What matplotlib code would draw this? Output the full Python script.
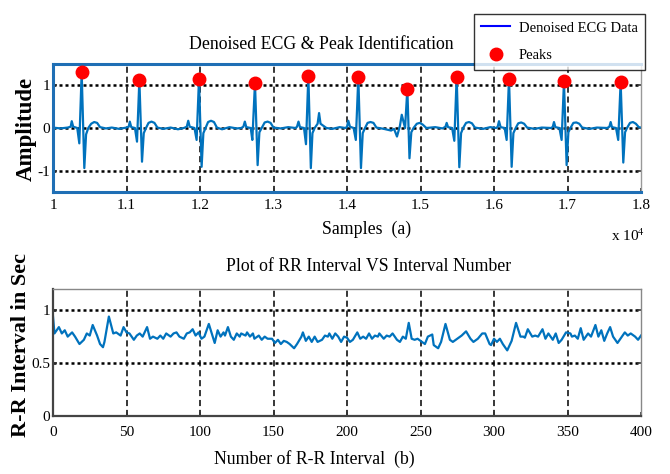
import numpy as np
import matplotlib.pyplot as plt

plt.rcParams['font.family'] = ['Liberation Serif', 'DejaVu Serif']
plt.rcParams['mathtext.fontset'] = 'stix'
plt.rcParams['axes.unicode_minus'] = False

# -- ECG trace (samples, amplitude), one row per beat --
ecg_samples = [
    10000, 10100, 10200, 10240, 10255, 10275, 10330, 10358, 10390, 10426, 10450, 10480, 10520, 10560, 10600, 10640, 10720, 10800, 10900, 11000,
    11030, 11045, 11065, 11115, 11143, 11175, 11211, 11235, 11265, 11300, 11340, 11380, 11420, 11500, 11600, 11700, 11780,
    11820, 11840, 11860, 11925, 11954, 11986, 12022, 12046, 12075, 12110, 12150, 12190, 12230, 12300, 12400, 12500, 12560,
    12590, 12610, 12630, 12690, 12712, 12748, 12784, 12808, 12840, 12880, 12920, 12960, 13000, 13100, 13200, 13300,
    13320, 13340, 13360, 13415, 13442, 13474, 13508, 13530, 13560, 13600, 13620, 13640, 13680, 13720, 13800, 13900, 13980,
    14000, 14018, 14040, 14090, 14120, 14154, 14190, 14214, 14245, 14280, 14320, 14360, 14400, 14500, 14600, 14640,
    14680, 14720, 14745, 14790, 14821, 14850, 14875, 14905, 14950, 14990, 15030, 15080, 15200, 15300,
    15340, 15356, 15375, 15430, 15460, 15492, 15528, 15552, 15580, 15620, 15660, 15700, 15740, 15850, 15950, 16030,
    16050, 16068, 16090, 16145, 16172, 16204, 16240, 16264, 16295, 16330, 16370, 16410, 16450, 16550, 16650, 16780,
    16800, 16816, 16835, 16890, 16920, 16952, 16988, 17012, 17040, 17080, 17120, 17160, 17200, 17300, 17400, 17540,
    17570, 17587, 17605, 17660, 17690, 17723, 17759, 17783, 17810, 17850, 17890, 17930, 17970, 18000,
]
ecg_amplitude = [
    0.01, -0.01, 0.01, 0.03, 0.16, 0.03, 0.0, -0.36, 1.31, -0.94, -0.15, 0.0, 0.10, 0.14, 0.12, 0.02, -0.01, 0.01, -0.02, 0.01,
    0.03, 0.15, 0.02, 0.0, -0.32, 1.13, -0.79, -0.12, 0.0, 0.12, 0.15, 0.12, 0.01, -0.02, 0.01, -0.03, 0.0,
    0.03, 0.17, 0.03, 0.0, -0.28, 1.14, -0.91, -0.12, 0.0, 0.14, 0.17, 0.14, 0.01, -0.03, 0.02, -0.01, 0.0,
    0.03, 0.15, 0.02, 0.0, -0.28, 1.06, -0.87, -0.10, 0.0, 0.13, 0.15, 0.12, 0.01, -0.01, 0.02, 0.0,
    0.03, 0.15, 0.02, 0.0, -0.38, 1.23, -0.94, -0.12, 0.0, 0.10, 0.35, 0.10, 0.05, 0.0, -0.02, 0.02, 0.0,
    0.03, 0.17, 0.03, 0.0, -0.28, 1.19, -0.94, -0.12, 0.0, 0.12, 0.14, 0.12, 0.01, -0.02, -0.06, -0.02,
    -0.20, 0.05, 0.31, 0.0, 0.92, -0.71, -0.10, 0.0, 0.10, 0.12, 0.08, 0.0, 0.02, -0.01,
    0.03, 0.12, 0.02, 0.0, -0.30, 1.20, -0.92, -0.12, 0.0, 0.12, 0.14, 0.11, 0.01, -0.02, 0.02, 0.0,
    0.03, 0.16, 0.02, 0.0, -0.28, 1.16, -0.91, -0.12, 0.0, 0.11, 0.13, 0.10, 0.01, -0.02, 0.01, 0.0,
    0.03, 0.14, 0.02, 0.0, -0.28, 1.09, -0.87, -0.10, 0.0, 0.12, 0.13, 0.10, 0.01, -0.02, 0.01, 0.0,
    0.03, 0.14, 0.02, 0.0, -0.28, 1.08, -0.81, -0.10, 0.0, 0.12, 0.14, 0.10, 0.02, 0.01,
]

# -- detected R peaks --
peak_samples = [10390, 11175, 11986, 12748, 13474, 14154, 14821, 15492, 16204, 16952, 17723]
peak_amplitude = [1.31, 1.13, 1.14, 1.06, 1.23, 1.19, 0.92, 1.20, 1.16, 1.09, 1.08]

# -- RR intervals --
rr_number = [
    0, 1, 4, 6, 8, 10, 13, 15, 18, 21, 23, 25, 27, 30, 32, 34, 35, 38, 41, 43, 46, 48, 50, 52, 55, 57, 59, 61, 64, 66,
    68, 71, 73, 75, 77, 80, 82, 84, 86, 89, 91, 93, 95, 97, 99, 101, 103, 106, 108, 110, 112, 114, 116, 117, 119, 121,
    123, 125, 127, 128, 131, 132, 134, 136, 137, 140, 142, 144, 146, 149, 151, 153, 155, 157, 159, 161, 164, 166, 169,
    170, 172, 174, 176, 178, 180, 183, 185, 187, 188, 190, 192, 194, 196, 198, 200, 202, 204, 207, 209, 211, 213, 215,
    217, 219, 221, 222, 225, 227, 229, 231, 234, 236, 238, 240, 242, 244, 246, 248, 251, 253, 255, 258, 259, 262, 264,
    267, 270, 272, 275, 278, 281, 284, 286, 289, 292, 294, 297, 298, 300, 302, 304, 306, 309, 312, 315, 318, 320, 321,
    323, 326, 328, 330, 333, 335, 337, 340, 342, 344, 346, 349, 352, 353, 355, 357, 359, 361, 364, 366, 369, 371, 373,
    375, 377, 379, 381, 384, 387, 389, 391, 393, 396, 398, 400,
]
rr_seconds = [
    0.94, 0.78, 0.84, 0.78, 0.81, 0.75, 0.79, 0.75, 0.68, 0.72, 0.78, 0.76, 0.86, 0.76, 0.68, 0.65, 0.70, 0.94, 0.78, 0.79, 0.76, 0.84, 0.79, 0.78, 0.72, 0.76, 0.78, 0.75, 0.84, 0.73,
    0.75, 0.73, 0.76, 0.73, 0.78, 0.75, 0.78, 0.79, 0.75, 0.73, 0.78, 0.79, 0.82, 0.76, 0.79, 0.73, 0.75, 0.87, 0.78, 0.69, 0.81, 0.75, 0.79, 0.76, 0.84, 0.75,
    0.72, 0.78, 0.75, 0.78, 0.76, 0.79, 0.75, 0.78, 0.73, 0.76, 0.72, 0.75, 0.73, 0.73, 0.69, 0.72, 0.68, 0.71, 0.70, 0.68, 0.64, 0.68, 0.75,
    0.79, 0.71, 0.75, 0.70, 0.75, 0.70, 0.72, 0.76, 0.75, 0.78, 0.73, 0.78, 0.75, 0.70, 0.75, 0.74, 0.70, 0.72, 0.79, 0.73, 0.75, 0.73, 0.78,
    0.73, 0.76, 0.75, 0.78, 0.73, 0.76, 0.75, 0.78, 0.72, 0.70, 0.75, 0.73, 0.88, 0.73, 0.72, 0.73, 0.70, 0.68, 0.75, 0.77, 0.67, 0.64, 0.70,
    0.87, 0.72, 0.70, 0.73, 0.76, 0.80, 0.73, 0.70, 0.73, 0.78, 0.78, 0.68, 0.67, 0.73, 0.70, 0.73, 0.68, 0.62, 0.71, 0.88, 0.75, 0.75, 0.74,
    0.82, 0.75, 0.76, 0.75, 0.82, 0.73, 0.78, 0.72, 0.78, 0.69, 0.72, 0.79, 0.78, 0.75, 0.76, 0.73, 0.83, 0.72, 0.78, 0.75, 0.86, 0.75, 0.81,
    0.71, 0.78, 0.84, 0.75, 0.69, 0.75, 0.79, 0.76, 0.78, 0.75, 0.72, 0.76,
]

sample_ticks = [10000, 11000, 12000, 13000, 14000, 15000, 16000, 17000, 18000]
sample_tick_labels = ['1', '1.1', '1.2', '1.3', '1.4', '1.5', '1.6', '1.7', '1.8']
rr_ticks = [0, 50, 100, 150, 200, 250, 300, 350, 400]

line_color = '#0072BD'
W, H = 670, 474

fig = plt.figure(figsize=(6.7, 4.74), dpi=100)
ax1 = fig.add_axes([53 / W, 1 - 192 / H, 588 / W, 128 / H])
ax2 = fig.add_axes([53 / W, 1 - 416 / H, 588 / W, 127 / H])


def style_axes(ax):
    ax.grid(False)
    for x in ax.get_xticks()[1:-1]:
        ax.axvline(x, color='black', linestyle=(0, (4, 2.5)), linewidth=1.1, zorder=1)
    for y in ax.get_yticks():
        if ax.get_ylim()[0] < y < ax.get_ylim()[1]:
            ax.axhline(y, color='black', linestyle=(0, (1.2, 1.2)), linewidth=1.8, zorder=1)
    ax.tick_params(direction='in', length=3, right=True, top=False, labelsize=11,
                   width=1.2, color='#333333')
    ax.tick_params(axis='x', pad=5)
    ax.tick_params(axis='y', pad=2)


# top panel: ECG with peaks
ax1.plot(ecg_samples, ecg_amplitude, color=line_color, linewidth=1.6, zorder=2,
         label='Denoised ECG Data')
ax1.plot(peak_samples, peak_amplitude, linestyle='none', marker='o', color='red',
         markersize=9, zorder=3, label='Peaks')
ax1.set_xlim(10000, 18000)
ax1.set_ylim(-1.5, 1.5)
ax1.set_xticks(sample_ticks)
ax1.set_xticklabels(sample_tick_labels)
ax1.set_yticks([-1, 0, 1])
style_axes(ax1)
for side in ['top', 'bottom', 'left']:
    ax1.spines[side].set_color('#1f6fb5')
    ax1.spines[side].set_linewidth(2.2)
ax1.spines['right'].set_color('#999999')
ax1.spines['right'].set_linewidth(1.0)

ax1.text(0.457, 1.15, 'Denoised ECG & Peak Identification', transform=ax1.transAxes,
         ha='center', va='center', fontsize=12.8)
ax1.set_xlabel('Samples  (a)', fontsize=12.8)
ax1.xaxis.set_label_coords(0.534, -0.225)
ax1.set_ylabel('Amplitude', fontsize=16.5, fontweight='bold')
ax1.yaxis.set_label_coords(-0.028, 0.49)
fig.text(611 / W, 1 - 236 / H, r'x 10$^4$', fontsize=11, ha='left', va='center')

leg_handles = [plt.Line2D([], [], color='blue', linewidth=1.5),
               plt.Line2D([], [], linestyle='none', marker='o', color='red', markersize=9)]
leg = fig.legend(leg_handles, ['Denoised ECG Data', 'Peaks'], loc='upper right',
                 bbox_to_anchor=(645 / W, 1 - 14 / H), fontsize=10.5, frameon=True,
                 fancybox=False, handlelength=2.0, borderpad=0.5, labelspacing=1.0,
                 handletextpad=0.6, borderaxespad=0)
leg.get_frame().set_edgecolor('black')
leg.get_frame().set_linewidth(1.0)

# bottom panel: RR intervals
ax2.plot(rr_number, rr_seconds, color=line_color, linewidth=1.6, zorder=2)
ax2.set_xlim(0, 400)
ax2.set_ylim(0, 1.2)
ax2.set_xticks(rr_ticks)
ax2.set_yticks([0, 0.5, 1])
ax2.set_yticklabels(['0', '0.5', '1'])
style_axes(ax2)
ax2.tick_params(axis='x', pad=7)
for side in ['bottom', 'left']:
    ax2.spines[side].set_color('#444444')
    ax2.spines[side].set_linewidth(1.6)
for side in ['top', 'right']:
    ax2.spines[side].set_color('#888888')
    ax2.spines[side].set_linewidth(1.0)

ax2.text(0.536, 1.18, 'Plot of RR Interval VS Interval Number', transform=ax2.transAxes,
         ha='center', va='center', fontsize=12.8)
ax2.set_xlabel('Number of R-R Interval  (b)', fontsize=12.8)
ax2.xaxis.set_label_coords(0.444, -0.265)
ax2.set_ylabel('R-R Interval in Sec', fontsize=16, fontweight='bold')
ax2.yaxis.set_label_coords(-0.038, 0.56)

fig.savefig('out.png', dpi=100)
